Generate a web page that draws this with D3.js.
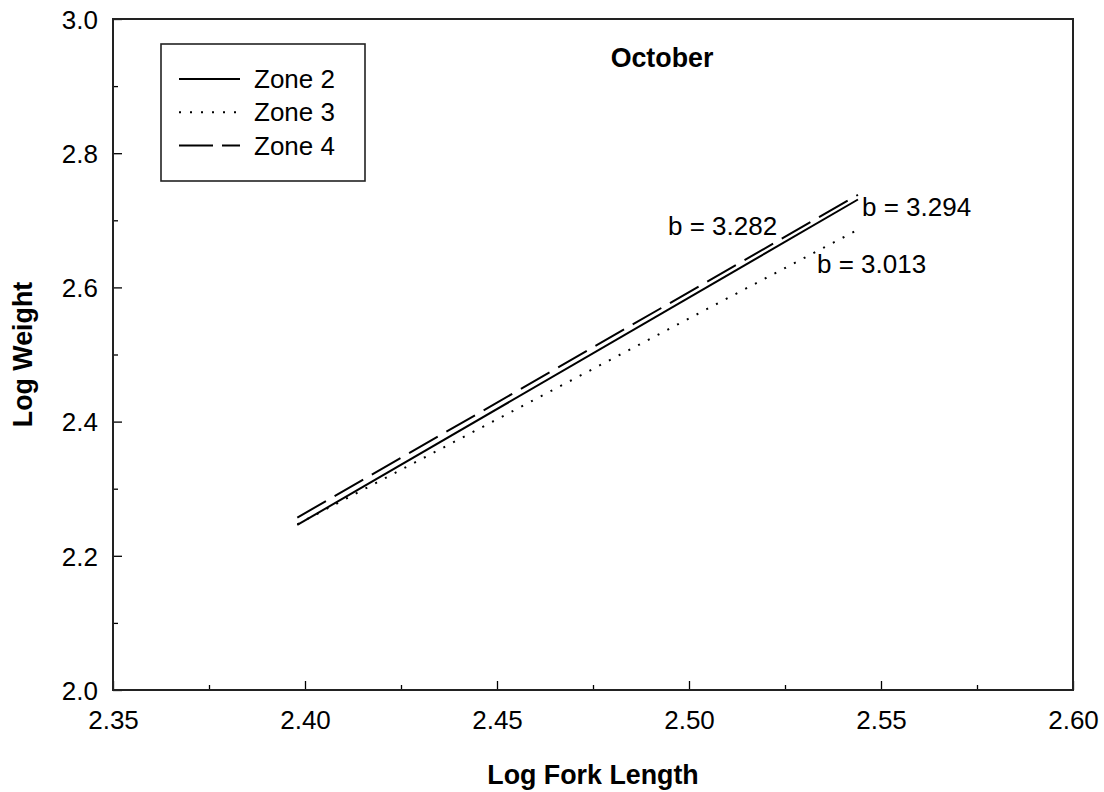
<!DOCTYPE html>
<html>
<head>
<meta charset="utf-8">
<script src="https://cdn.jsdelivr.net/npm/d3@7"></script>
<style>
  html, body { margin: 0; padding: 0; background: #fff; }
  svg { display: block; font-family: "Liberation Sans", Arial, sans-serif; }
</style>
</head>
<body>
<svg id="chart" width="1104" height="792"></svg>
<script>
// ---- data ----
const zones = ["Zone 2", "Zone 3", "Zone 4"];
const xStart = [2.398, 2.398, 2.398];
const xEnd = [2.544, 2.544, 2.544];
const yStart = [2.246, 2.247, 2.257];
const yEnd = [2.731, 2.686, 2.738];
const slopeLabels = ["b = 3.282", "b = 3.013", "b = 3.294"];
const xMajorTicks = [2.35, 2.40, 2.45, 2.50, 2.55, 2.60];
const xMinorTicks = [2.375, 2.425, 2.475, 2.525, 2.575];
const yMajorTicks = [2.0, 2.2, 2.4, 2.6, 2.8, 3.0];
const yMinorTicks = [2.1, 2.3, 2.5, 2.7, 2.9];
const panelTitle = "October";
const xTitle = "Log Fork Length";
const yTitle = "Log Weight";

// ---- layout ----
const svg = d3.select("#chart");
const pLeft = 113, pRight = 1073, pTop = 19, pBottom = 690;
const x = d3.scaleLinear().domain([2.35, 2.60]).range([pLeft, pRight]);
const y = d3.scaleLinear().domain([2.0, 3.0]).range([pBottom, pTop]);
const fs = 26, fsBold = 26.8;
const ff = "Liberation Sans, Arial, sans-serif";

const dashes = [null, "2,9", "33,10"];
const widths = [2, 2, 2];

// minor ticks
svg.append("g").attr("transform", `translate(0,${pBottom})`)
  .call(d3.axisBottom(x).tickValues(xMinorTicks).tickSize(-5).tickFormat(""))
  .call(g => g.select(".domain").remove())
  .call(g => g.selectAll("line").attr("stroke", "#000").attr("stroke-width", 1.3));
svg.append("g").attr("transform", `translate(${pLeft},0)`)
  .call(d3.axisLeft(y).tickValues(yMinorTicks).tickSize(-5).tickFormat(""))
  .call(g => g.select(".domain").remove())
  .call(g => g.selectAll("line").attr("stroke", "#000").attr("stroke-width", 1.3));

// major ticks + labels
svg.append("g").attr("transform", `translate(0,${pBottom})`)
  .call(d3.axisBottom(x).tickValues(xMajorTicks).tickSize(-9).tickFormat(d3.format(".2f")))
  .call(g => g.select(".domain").remove())
  .call(g => g.selectAll("line").attr("stroke", "#000").attr("stroke-width", 1.3))
  .call(g => g.selectAll("text").attr("y", 39).attr("dy", null)
    .attr("fill", "#000").attr("font-size", fs).attr("font-family", ff));
svg.append("g").attr("transform", `translate(${pLeft},0)`)
  .call(d3.axisLeft(y).tickValues(yMajorTicks).tickSize(-9).tickFormat(d3.format(".1f")))
  .call(g => g.select(".domain").remove())
  .call(g => g.selectAll("line").attr("stroke", "#000").attr("stroke-width", 1.3))
  .call(g => g.selectAll("text").attr("x", -15).attr("dy", "0.36em")
    .attr("fill", "#000").attr("font-size", fs).attr("font-family", ff));

// frame
svg.append("rect").attr("x", pLeft).attr("y", pTop)
  .attr("width", pRight - pLeft).attr("height", pBottom - pTop)
  .attr("fill", "none").attr("stroke", "#222").attr("stroke-width", 2);

// lines
const line = d3.line().x(d => x(d[0])).y(d => y(d[1]));
zones.forEach((z, i) => {
  svg.append("path")
    .datum([[xStart[i], yStart[i]], [xEnd[i], yEnd[i]]])
    .attr("d", line)
    .attr("fill", "none")
    .attr("stroke", "#000")
    .attr("stroke-width", widths[i])
    .attr("stroke-dasharray", dashes[i]);
});

// slope labels
const labelPos = [[668, 235], [817, 273], [862, 216]];
slopeLabels.forEach((t, i) => {
  svg.append("text").attr("x", labelPos[i][0]).attr("y", labelPos[i][1])
    .attr("font-size", fs).attr("fill", "#000").text(t);
});

// legend
svg.append("rect").attr("x", 161).attr("y", 44).attr("width", 204).attr("height", 137)
  .attr("fill", "#fff").attr("stroke", "#222").attr("stroke-width", 1.6);
zones.forEach((z, i) => {
  const ly = 79 + i * 33.3;
  svg.append("line").attr("x1", 179).attr("x2", 240).attr("y1", ly).attr("y2", ly)
    .attr("stroke", "#000").attr("stroke-width", widths[i])
    .attr("stroke-dasharray", i === 2 ? "34,9" : dashes[i]);
  svg.append("text").attr("x", 254).attr("y", ly + 9)
    .attr("font-size", fs).attr("fill", "#000").text(z);
});

// titles
svg.append("text").attr("x", 662).attr("y", 67).attr("text-anchor", "middle")
  .attr("font-size", fsBold).attr("font-weight", "bold").attr("fill", "#000").text(panelTitle);
svg.append("text").attr("x", (pLeft + pRight) / 2).attr("y", 784).attr("text-anchor", "middle")
  .attr("font-size", fsBold).attr("font-weight", "bold").attr("fill", "#000").text(xTitle);
svg.append("text").attr("transform", `translate(32,${(pTop + pBottom) / 2}) rotate(-90)`)
  .attr("text-anchor", "middle")
  .attr("font-size", fsBold).attr("font-weight", "bold").attr("fill", "#000").text(yTitle);
</script>
</body>
</html>
